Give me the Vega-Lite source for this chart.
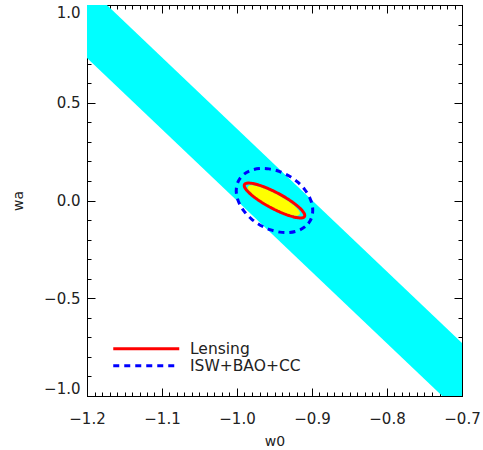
{
  "$schema": "https://vega.github.io/schema/vega-lite/v6.json",
  "width": 375,
  "height": 391,
  "autosize": {"type": "none"},
  "padding": {"left": 87, "top": 5, "right": 21, "bottom": 54},
  "background": "white",
  "datasets": {
    "band": [
      {"w0": -1.2, "top": 1.097, "bot": 0.729},
      {"w0": -0.7, "top": -0.729, "bot": -1.096}
    ],
    "core": [
      {"i": 0, "w0": -0.91686, "wa": -0.06965},
      {"i": 1, "w0": -0.91907, "wa": -0.07488},
      {"i": 2, "w0": -0.92347, "wa": -0.07500},
      {"i": 3, "w0": -0.92974, "wa": -0.07001},
      {"i": 4, "w0": -0.93745, "wa": -0.06026},
      {"i": 5, "w0": -0.94609, "wa": -0.04639},
      {"i": 6, "w0": -0.95507, "wa": -0.02936},
      {"i": 7, "w0": -0.96377, "wa": -0.01033},
      {"i": 8, "w0": -0.97159, "wa": 0.00940},
      {"i": 9, "w0": -0.97802, "wa": 0.02849},
      {"i": 10, "w0": -0.98261, "wa": 0.04564},
      {"i": 11, "w0": -0.98503, "wa": 0.05968},
      {"i": 12, "w0": -0.98514, "wa": 0.06965},
      {"i": 13, "w0": -0.98293, "wa": 0.07488},
      {"i": 14, "w0": -0.97853, "wa": 0.07500},
      {"i": 15, "w0": -0.97226, "wa": 0.07001},
      {"i": 16, "w0": -0.96455, "wa": 0.06026},
      {"i": 17, "w0": -0.95591, "wa": 0.04639},
      {"i": 18, "w0": -0.94693, "wa": 0.02936},
      {"i": 19, "w0": -0.93823, "wa": 0.01033},
      {"i": 20, "w0": -0.93041, "wa": -0.00940},
      {"i": 21, "w0": -0.92398, "wa": -0.02849},
      {"i": 22, "w0": -0.91939, "wa": -0.04564},
      {"i": 23, "w0": -0.91697, "wa": -0.05968}
    ],
    "lensing": [
      {"series": "Lensing", "i": 0, "w0": -0.90998, "wa": -0.08165},
      {"series": "Lensing", "i": 1, "w0": -0.91264, "wa": -0.08822},
      {"series": "Lensing", "i": 2, "w0": -0.91785, "wa": -0.08878},
      {"series": "Lensing", "i": 3, "w0": -0.92524, "wa": -0.08329},
      {"series": "Lensing", "i": 4, "w0": -0.93433, "wa": -0.07212},
      {"series": "Lensing", "i": 5, "w0": -0.94448, "wa": -0.05603},
      {"series": "Lensing", "i": 6, "w0": -0.95501, "wa": -0.03613},
      {"series": "Lensing", "i": 7, "w0": -0.96520, "wa": -0.01377},
      {"series": "Lensing", "i": 8, "w0": -0.97435, "wa": 0.00954},
      {"series": "Lensing", "i": 9, "w0": -0.98184, "wa": 0.03219},
      {"series": "Lensing", "i": 10, "w0": -0.98717, "wa": 0.05264},
      {"series": "Lensing", "i": 11, "w0": -0.98996, "wa": 0.06952},
      {"series": "Lensing", "i": 12, "w0": -0.99002, "wa": 0.08165},
      {"series": "Lensing", "i": 13, "w0": -0.98736, "wa": 0.08822},
      {"series": "Lensing", "i": 14, "w0": -0.98215, "wa": 0.08878},
      {"series": "Lensing", "i": 15, "w0": -0.97476, "wa": 0.08329},
      {"series": "Lensing", "i": 16, "w0": -0.96567, "wa": 0.07212},
      {"series": "Lensing", "i": 17, "w0": -0.95552, "wa": 0.05603},
      {"series": "Lensing", "i": 18, "w0": -0.94499, "wa": 0.03613},
      {"series": "Lensing", "i": 19, "w0": -0.93480, "wa": 0.01377},
      {"series": "Lensing", "i": 20, "w0": -0.92565, "wa": -0.00954},
      {"series": "Lensing", "i": 21, "w0": -0.91816, "wa": -0.03219},
      {"series": "Lensing", "i": 22, "w0": -0.91283, "wa": -0.05264},
      {"series": "Lensing", "i": 23, "w0": -0.91004, "wa": -0.06952}
    ],
    "isw": [
      {"series": "ISW+BAO+CC", "i": 0, "w0": -0.90266, "wa": -0.10486},
      {"series": "ISW+BAO+CC", "i": 1, "w0": -0.90919, "wa": -0.13396},
      {"series": "ISW+BAO+CC", "i": 2, "w0": -0.91850, "wa": -0.15394},
      {"series": "ISW+BAO+CC", "i": 3, "w0": -0.92997, "wa": -0.16342},
      {"series": "ISW+BAO+CC", "i": 4, "w0": -0.94278, "wa": -0.16176},
      {"series": "ISW+BAO+CC", "i": 5, "w0": -0.95610, "wa": -0.14909},
      {"series": "ISW+BAO+CC", "i": 6, "w0": -0.96900, "wa": -0.12625},
      {"series": "ISW+BAO+CC", "i": 7, "w0": -0.98060, "wa": -0.09481},
      {"series": "ISW+BAO+CC", "i": 8, "w0": -0.99012, "wa": -0.05690},
      {"series": "ISW+BAO+CC", "i": 9, "w0": -0.99691, "wa": -0.01512},
      {"series": "ISW+BAO+CC", "i": 10, "w0": -1.00050, "wa": 0.02768},
      {"series": "ISW+BAO+CC", "i": 11, "w0": -1.00065, "wa": 0.06862},
      {"series": "ISW+BAO+CC", "i": 12, "w0": -0.99734, "wa": 0.10486},
      {"series": "ISW+BAO+CC", "i": 13, "w0": -0.99081, "wa": 0.13396},
      {"series": "ISW+BAO+CC", "i": 14, "w0": -0.98150, "wa": 0.15394},
      {"series": "ISW+BAO+CC", "i": 15, "w0": -0.97003, "wa": 0.16342},
      {"series": "ISW+BAO+CC", "i": 16, "w0": -0.95722, "wa": 0.16176},
      {"series": "ISW+BAO+CC", "i": 17, "w0": -0.94390, "wa": 0.14909},
      {"series": "ISW+BAO+CC", "i": 18, "w0": -0.93100, "wa": 0.12625},
      {"series": "ISW+BAO+CC", "i": 19, "w0": -0.91940, "wa": 0.09481},
      {"series": "ISW+BAO+CC", "i": 20, "w0": -0.90988, "wa": 0.05690},
      {"series": "ISW+BAO+CC", "i": 21, "w0": -0.90309, "wa": 0.01512},
      {"series": "ISW+BAO+CC", "i": 22, "w0": -0.89950, "wa": -0.02768},
      {"series": "ISW+BAO+CC", "i": 23, "w0": -0.89935, "wa": -0.06862}
    ]
  },
  "resolve": {"axis": {"x": "independent", "y": "independent"}},
  "layer": [
    {
      "data": {"name": "band"},
      "mark": {"type": "area", "color": "#00ffff", "clip": true, "opacity": 1},
      "encoding": {
        "x": {"field": "w0", "type": "quantitative",
          "scale": {"domain": [-1.2, -0.7], "nice": false, "zero": false},
          "axis": {"orient": "bottom", "values": [-1.2, -1.1, -1.0, -0.9, -0.8, -0.7], "format": ".1f", "tickSize": -8, "labelPadding": 23, "title": "w0", "titlePadding": 8, "labelOverlap": false, "labelFlush": false}},
        "y": {"field": "top", "type": "quantitative",
          "scale": {"domain": [-1, 1], "nice": false, "zero": false},
          "axis": {"orient": "left", "values": [-1, -0.5, 0, 0.5, 1], "format": ".1f", "tickSize": -8, "labelPadding": 15, "title": "wa", "titlePadding": 18, "labelOverlap": false, "labelFlush": true, "labelFlushOffset": 0}},
        "y2": {"field": "bot"}
      }
    },
    {
      "data": {"name": "core"},
      "mark": {"type": "line", "fill": "#ffff00", "stroke": "#ffff00", "strokeWidth": 1, "interpolate": "cardinal-closed", "clip": true},
      "encoding": {
        "x": {"field": "w0", "type": "quantitative",
          "scale": {"domain": [-1.2, -0.7], "nice": false, "zero": false},
          "axis": {"orient": "bottom", "values": [-1.2,-1.19,-1.18,-1.17,-1.16,-1.15,-1.14,-1.13,-1.12,-1.11,-1.1,-1.09,-1.08,-1.07,-1.06,-1.05,-1.04,-1.03,-1.02,-1.01,-1.0,-0.99,-0.98,-0.97,-0.96,-0.95,-0.94,-0.93,-0.92,-0.91,-0.9,-0.89,-0.88,-0.87,-0.86,-0.85,-0.84,-0.83,-0.82,-0.81,-0.8,-0.79,-0.78,-0.77,-0.76,-0.75,-0.74,-0.73,-0.72,-0.71,-0.7], "tickSize": -4, "labels": false, "title": null}},
        "y": {"field": "wa", "type": "quantitative",
          "scale": {"domain": [-1, 1], "nice": false, "zero": false},
          "axis": {"orient": "left", "values": [-1,-0.9,-0.8,-0.7,-0.6,-0.5,-0.4,-0.3,-0.2,-0.1,0,0.1,0.2,0.3,0.4,0.5,0.6,0.7,0.8,0.9,1], "tickSize": -4, "labels": false, "title": null}},
        "order": {"field": "i", "type": "quantitative"}
      }
    },
    {
      "data": {"name": "lensing"},
      "mark": {"type": "line", "strokeWidth": 3, "interpolate": "cardinal-closed", "clip": true},
      "encoding": {
        "x": {"field": "w0", "type": "quantitative",
          "scale": {"domain": [-1.2, -0.7], "nice": false, "zero": false},
          "axis": {"orient": "top", "values": [-1.2, -1.1, -1.0, -0.9, -0.8, -0.7], "tickSize": -8, "labels": false, "title": null}},
        "y": {"field": "wa", "type": "quantitative",
          "scale": {"domain": [-1, 1], "nice": false, "zero": false},
          "axis": {"orient": "right", "values": [-1, -0.5, 0, 0.5, 1], "tickSize": -8, "labels": false, "title": null}},
        "color": {"field": "series", "type": "nominal",
          "scale": {"domain": ["Lensing", "ISW+BAO+CC"], "range": ["#ff0000", "#0000ff"]},
          "legend": {"orient": "none", "legendX": 51.5, "legendY": 336, "title": null}},
        "strokeDash": {"field": "series", "type": "nominal",
          "scale": {"domain": ["Lensing", "ISW+BAO+CC"], "range": [[1, 0], [6, 5]]},
          "legend": {"orient": "none", "legendX": 51.5, "legendY": 336, "title": null}},
        "order": {"field": "i", "type": "quantitative"}
      }
    },
    {
      "data": {"name": "isw"},
      "mark": {"type": "line", "strokeWidth": 3, "interpolate": "cardinal-closed", "clip": true},
      "encoding": {
        "x": {"field": "w0", "type": "quantitative",
          "scale": {"domain": [-1.2, -0.7], "nice": false, "zero": false},
          "axis": {"orient": "top", "values": [-1.2,-1.19,-1.18,-1.17,-1.16,-1.15,-1.14,-1.13,-1.12,-1.11,-1.1,-1.09,-1.08,-1.07,-1.06,-1.05,-1.04,-1.03,-1.02,-1.01,-1.0,-0.99,-0.98,-0.97,-0.96,-0.95,-0.94,-0.93,-0.92,-0.91,-0.9,-0.89,-0.88,-0.87,-0.86,-0.85,-0.84,-0.83,-0.82,-0.81,-0.8,-0.79,-0.78,-0.77,-0.76,-0.75,-0.74,-0.73,-0.72,-0.71,-0.7], "tickSize": -4, "labels": false, "title": null}},
        "y": {"field": "wa", "type": "quantitative",
          "scale": {"domain": [-1, 1], "nice": false, "zero": false},
          "axis": {"orient": "right", "values": [-1,-0.9,-0.8,-0.7,-0.6,-0.5,-0.4,-0.3,-0.2,-0.1,0,0.1,0.2,0.3,0.4,0.5,0.6,0.7,0.8,0.9,1], "tickSize": -4, "labels": false, "title": null}},
        "color": {"field": "series", "type": "nominal",
          "scale": {"domain": ["Lensing", "ISW+BAO+CC"], "range": ["#ff0000", "#0000ff"]},
          "legend": {"orient": "none", "legendX": 51.5, "legendY": 336, "title": null}},
        "strokeDash": {"field": "series", "type": "nominal",
          "scale": {"domain": ["Lensing", "ISW+BAO+CC"], "range": [[1, 0], [6, 5]]},
          "legend": {"orient": "none", "legendX": 51.5, "legendY": 336, "title": null}},
        "order": {"field": "i", "type": "quantitative"}
      }
    }
  ],
  "config": {
    "view": {"stroke": null},
    "font": "DejaVu Sans",
    "axis": {
      "grid": false,
      "domainColor": "#000000",
      "domainWidth": 1,
      "tickColor": "#000000",
      "tickWidth": 1,
      "labelColor": "#222222",
      "labelFont": "DejaVu Sans",
      "labelFontSize": 15,
      "titleFont": "DejaVu Sans",
      "titleFontSize": 14,
      "titleFontWeight": "normal",
      "titleColor": "#222222"
    },
    "legend": {
      "symbolType": "M-6,0H6",
      "symbolSize": 121,
      "symbolStrokeWidth": 3,
      "labelFont": "DejaVu Sans",
      "labelFontSize": 15.5,
      "labelColor": "#222222",
      "labelOffset": 36,
      "rowPadding": -1,
      "padding": 0,
      "symbolFillColor": null
    }
  }
}
